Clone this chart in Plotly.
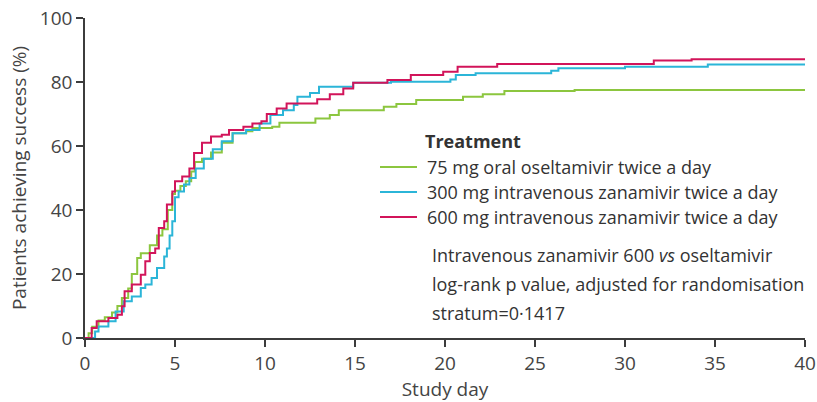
import plotly.graph_objects as go

# Kaplan-Meier style cumulative success curves (step functions)
oselt_day = [0, 0.2, 0.4, 0.75, 1.1, 1.5, 1.8, 2.05, 2.4, 2.6, 2.9, 3.1, 3.6, 4.0, 4.3, 4.6, 4.85,
             5.0, 5.3, 5.6, 5.9, 6.1, 6.5, 7.0, 7.6, 8.2, 8.95, 9.3, 10.4, 10.8, 12.8, 13.6, 14.1,
             16.6, 17.3, 18.4, 21.0, 22.1, 23.3, 27.2, 40]
oselt_pct = [0, 1.5, 3.5, 5.5, 6.5, 8, 10, 12.5, 15.5, 20, 25, 26.5, 29, 32, 34, 40, 45,
             46, 47.5, 49, 52, 55, 56, 58, 61, 64, 64.6, 65.6, 66, 67.3, 68.6, 69.7, 71.2,
             72.3, 73.1, 74.4, 75.4, 76.2, 77.2, 77.5, 77.5]

zan300_day = [0, 0.2, 0.56, 0.75, 1.3, 1.7, 2.15, 2.6, 3.1, 3.35, 3.7, 4.0, 4.4, 4.55, 4.7, 4.85,
              5.0, 5.2, 5.5, 5.8, 6.15, 6.6, 7.1, 7.6, 8.2, 8.95, 9.7, 10.3, 11.0, 11.6, 11.8,
              12.5, 13.0, 14.9, 17.0, 20.3, 20.6, 21.7, 25.9, 26.3, 30.0, 34.6, 40]
zan300_pct = [0, 0, 2, 3.6, 5.2, 8.3, 11.5, 13, 15.6, 16.7, 18.75, 21.9, 25.5, 28, 32, 36.5,
              44, 45.8, 48, 50, 53, 56, 59, 61.5, 64, 65, 67, 69.7, 71.2, 72.8, 75.4,
              76.6, 78.5, 79.8, 80.1, 80.8, 82.2, 82.7, 83.5, 84.3, 84.8, 85.5, 85.5]

zan600_day = [0, 0.1, 0.37, 0.65, 1.3, 1.8, 2.05, 2.2, 2.6, 3.1, 3.35, 3.6, 3.9, 4.1, 4.4, 4.55,
              4.85, 5.0, 5.4, 5.8, 6.06, 6.5, 7.0, 7.6, 8.0, 8.8, 9.3, 9.8, 10.1, 10.65, 11.2,
              12.9, 13.6, 14.35, 14.9, 16.8, 18.1, 19.9, 20.7, 22.9, 31.6, 33.7, 40]
zan600_pct = [0, 0, 3.1, 5.2, 6.25, 7.3, 9.9, 14.6, 16.7, 19.8, 24, 26.6, 28, 34.4, 36.5, 41.7,
              45.8, 49, 50.5, 53, 57.8, 61, 63, 63.5, 65, 66, 67, 67.7, 70, 71.7, 73.3,
              74.6, 76.2, 78, 79.8, 80.6, 82.2, 83.2, 84.8, 85.6, 86.7, 87.1, 87.1]

series_names = ["75 mg oral oseltamivir twice a day",
                "300 mg intravenous zanamivir twice a day",
                "600 mg intravenous zanamivir twice a day"]
series_colors = ["#8cc63f", "#2bb5d8", "#d2145a"]

x_ticks = [0, 5, 10, 15, 20, 25, 30, 35, 40]
y_ticks = [0, 20, 40, 60, 80, 100]

FONT = "Open Sans"
TEXT = "#333333"
AXIS_TEXT = "#444444"

# plot area in pixels (fixed margins, no automargin)
W, H = 817, 402
ML, MR, MT, MB = 85, 12, 18, 64
PW, PH = W - ML - MR, H - MT - MB


def px_x(x):
    return (x - ML) / PW


def px_y(y):
    return (H - MB - y) / PH


fig = go.Figure()
for name, xs, ys, col in zip(series_names,
                             [oselt_day, zan300_day, zan600_day],
                             [oselt_pct, zan300_pct, zan600_pct],
                             series_colors):
    fig.add_trace(go.Scatter(x=xs, y=ys, mode="lines", name=name, showlegend=False,
                             line=dict(color=col, width=2, shape="hv")))

axis_common = dict(showgrid=False, zeroline=False, showline=True, linecolor="#3c3c3c",
                   linewidth=1.5, ticks="outside", ticklen=7, tickwidth=1.5,
                   tickcolor="#3c3c3c", automargin=False,
                   tickfont=dict(family=FONT, size=19, color=AXIS_TEXT))

fig.update_xaxes(range=[0, 40], tickvals=x_ticks,
                 title=dict(text="Study day", font=dict(family=FONT, size=19, color=AXIS_TEXT),
                            standoff=6),
                 **axis_common)
fig.update_yaxes(range=[0, 100], tickvals=y_ticks,
                 title=dict(text="Patients achieving success (%)",
                            font=dict(family=FONT, size=19, color=AXIS_TEXT), standoff=8),
                 **axis_common)

fig.update_layout(
    width=W, height=H,
    margin=dict(l=ML, r=MR, t=MT, b=MB),
    paper_bgcolor="white", plot_bgcolor="white",
    showlegend=False,
)

# key: heading, sample lines and labels
fig.add_annotation(text="<b>Treatment</b>", xref="paper", yref="paper",
                   x=px_x(423), y=px_y(141), xanchor="left", yanchor="middle",
                   showarrow=False, font=dict(family=FONT, size=18, color=TEXT))
key_rows = [167, 192, 217]
for name, col, row in zip(series_names, series_colors, key_rows):
    fig.add_shape(type="line", xref="paper", yref="paper",
                  x0=px_x(380), x1=px_x(417), y0=px_y(row), y1=px_y(row),
                  line=dict(color=col, width=2))
    fig.add_annotation(text=name, xref="paper", yref="paper",
                       x=px_x(425), y=px_y(row), xanchor="left", yanchor="middle",
                       showarrow=False, font=dict(family=FONT, size=18, color=TEXT))

note_lines = ["Intravenous zanamivir 600 <i>vs</i> oseltamivir",
              "log-rank p value, adjusted for randomisation",
              "stratum=0·1417"]
for i, t in enumerate(note_lines):
    fig.add_annotation(text=t, xref="paper", yref="paper",
                       x=px_x(430), y=px_y(255 + i * 29),
                       xanchor="left", yanchor="middle", showarrow=False,
                       font=dict(family=FONT, size=18, color=TEXT))

fig.write_html("out.html")
